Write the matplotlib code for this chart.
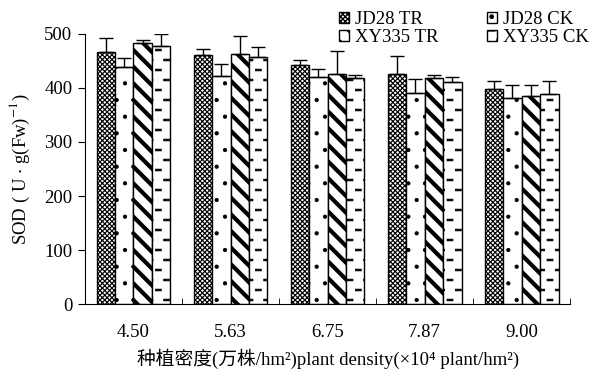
import numpy as np
import matplotlib
matplotlib.use('Agg')
import matplotlib.pyplot as plt
from matplotlib import hatch as mhatch
from matplotlib.path import Path

plt.rcParams['font.family'] = ['Liberation Serif', 'Noto Sans CJK SC', 'DejaVu Serif']
plt.rcParams['mathtext.fontset'] = 'stix'


# Short staggered dashes instead of full horizontal lines for the '-' hatch
class DashHatch(mhatch.HatchPatternBase):
    nx, ny = 6, 10      # dashes per hatch cell, across and up
    half_len, half_thk = 0.03, 0.009

    def __init__(self, hatch, density):
        self.on = hatch.count('-') > 0
        self.num_vertices = (self.nx + 2) * (self.ny + 1) * 5 if self.on else 0

    def set_vertices_and_codes(self, vertices, codes):
        parts = []
        for j in range(self.ny + 1):
            y = j / self.ny
            for i in range(-1, self.nx + 1):
                xc = (i + 0.5 * (j % 2)) / self.nx
                parts.append([[xc - self.half_len, y - self.half_thk],
                              [xc + self.half_len, y - self.half_thk],
                              [xc + self.half_len, y + self.half_thk],
                              [xc - self.half_len, y + self.half_thk],
                              [xc - self.half_len, y - self.half_thk]])
        vertices[:] = np.concatenate(parts)
        codes[:] = np.tile([Path.MOVETO, Path.LINETO, Path.LINETO,
                            Path.LINETO, Path.CLOSEPOLY], len(parts))


mhatch._hatch_types = [DashHatch if t is mhatch.HorizontalHatch else t
                       for t in mhatch._hatch_types]

# Data
densities = ['4.50', '5.63', '6.75', '7.87', '9.00']
series = ['JD28 TR', 'JD28 CK', 'XY335 TR', 'XY335 CK']
jd28_tr = [467, 461, 443, 425, 399]
jd28_tr_err = [25, 11, 9, 35, 13]
jd28_ck = [438, 422, 420, 390, 381]
jd28_ck_err = [17, 22, 16, 27, 25]
xy335_tr = [483, 463, 425, 418, 386]
xy335_tr_err = [5, 34, 43, 6, 20]
xy335_ck = [478, 457, 418, 411, 389]
xy335_ck_err = [21, 18, 6, 10, 23]

values = [jd28_tr, jd28_ck, xy335_tr, xy335_ck]
errors = [jd28_tr_err, jd28_ck_err, xy335_tr_err, xy335_ck_err]
hatches = ['xxxxxxx', '.', '\\\\', '-']
hatch_lw = [0.85, 0.6, 3.0, 0.5]

fig = plt.figure(figsize=(5.94, 3.69), dpi=100)
ax = fig.add_axes([0.143, 0.176, 0.817, 0.732])

x = np.arange(len(densities))
width = 0.19
handles = []
for i in range(4):
    pos = x + (i - 1.5) * width
    bars = ax.bar(pos, values[i], width, color='white', edgecolor='black',
                  linewidth=1, hatch=hatches[i], label=series[i])
    for b in bars:
        try:
            b.set_hatch_linewidth(hatch_lw[i])
        except AttributeError:
            pass
    handles.append(bars)
    ax.errorbar(pos, values[i], yerr=[np.zeros(5), errors[i]], fmt='none',
                ecolor='black', elinewidth=1, capsize=5, capthick=1)

ax.set_xlim(-0.5, 4.5)
ax.set_ylim(0, 500)
ax.set_yticks(range(0, 501, 100))
ax.set_xticks(x)
ax.set_xticklabels(densities)
ax.set_xticks(np.arange(-0.5, 4.6, 1), minor=True)
ax.tick_params(axis='x', which='major', length=0, pad=14, labelsize=13.5)
ax.tick_params(axis='x', which='minor', direction='in', length=4)
ax.tick_params(axis='y', direction='out', length=5, labelsize=13.5, pad=4)
ax.spines['top'].set_visible(False)
ax.spines['right'].set_visible(False)

ax.set_ylabel(r'SOD ( U $\cdot$ g(Fw)$^{-1}$)', fontsize=13.5, labelpad=9)
ax.set_xlabel('种植密度(万株/hm²)plant density(×10⁴ plant/hm²)', fontsize=13.5, labelpad=6)

# row-wise legend order: JD28 TR, JD28 CK / XY335 TR, XY335 CK
order = [0, 2, 1, 3]
fig.legend([handles[k] for k in order], [series[k] for k in order],
           loc='upper right', bbox_to_anchor=(1.01, 1.0), ncol=2, frameon=False,
           fontsize=13.5, handlelength=0.55, handleheight=0.55, handletextpad=0.3,
           columnspacing=2.6, labelspacing=0.05, borderaxespad=0.2)

fig.savefig('out.png', dpi=100)
